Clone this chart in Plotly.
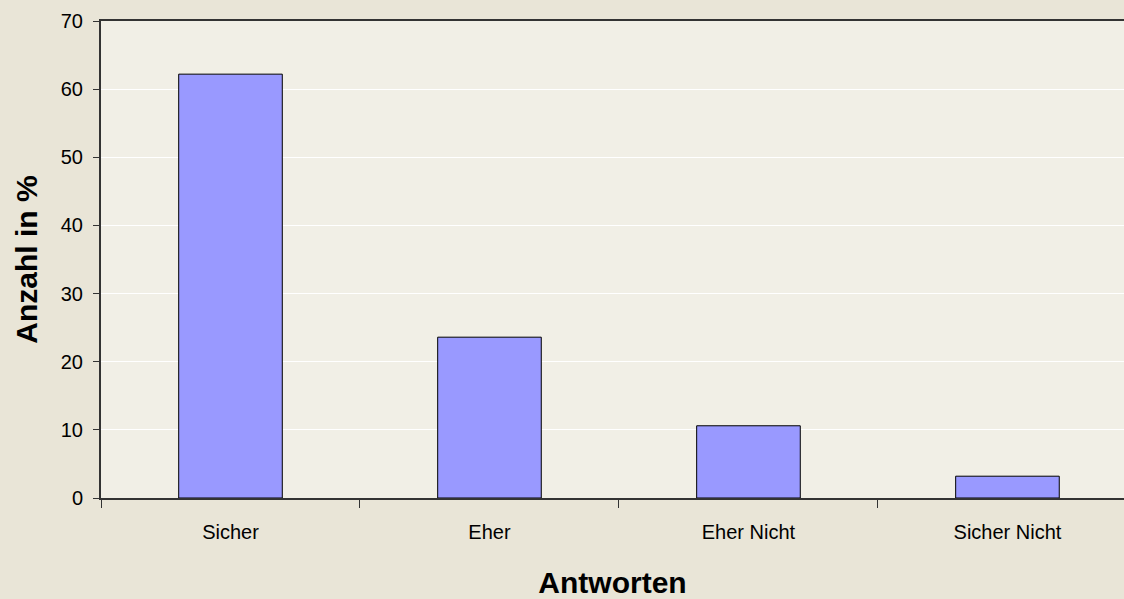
import plotly.graph_objects as go

categories = ["Sicher", "Eher", "Eher Nicht", "Sicher Nicht"]
values = [62.2, 23.6, 10.6, 3.2]
y_ticks = [0, 10, 20, 30, 40, 50, 60, 70]

fig = go.Figure()
fig.add_trace(go.Bar(
    x=categories, y=values, width=0.4,
    marker=dict(color="#9999ff", line=dict(color="#000000", width=1)),
))

font = "Liberation Sans, Arial, sans-serif"
fig.update_layout(
    width=1124, height=599,
    margin=dict(l=101, r=0, t=21, b=101),
    paper_bgcolor="#e9e5d7",
    plot_bgcolor="#f1efe6",
    showlegend=False,
    font=dict(family=font, size=20, color="#000000"),
    xaxis=dict(
        range=[-0.5, 3.45],
        showline=True, linecolor="#333333", linewidth=2, mirror=True,
        ticks="outside", ticklen=8, tickcolor="#333333", tickwidth=1,
        tickson="boundaries", showgrid=False,
        tickfont=dict(size=20, family=font),
        ticklabelstandoff=15,
        title=dict(text="<b>Antworten</b>", font=dict(size=30, family=font), standoff=30),
    ),
    yaxis=dict(
        range=[0, 70], tickvals=y_ticks,
        showline=True, linecolor="#333333", linewidth=2,
        ticks="outside", ticklen=6, tickcolor="#333333",
        showgrid=True, gridcolor="#ffffff", gridwidth=1,
        zeroline=False,
        tickfont=dict(size=20, family=font),
        ticklabelstandoff=6,
        title=dict(text="<b>Anzahl in %</b>", font=dict(size=30, family=font), standoff=14),
    ),
)

fig.write_html(
    "out.html",
    config={"displayModeBar": False},
    post_script="document.body.style.margin='0';document.body.style.overflow='hidden';",
)
